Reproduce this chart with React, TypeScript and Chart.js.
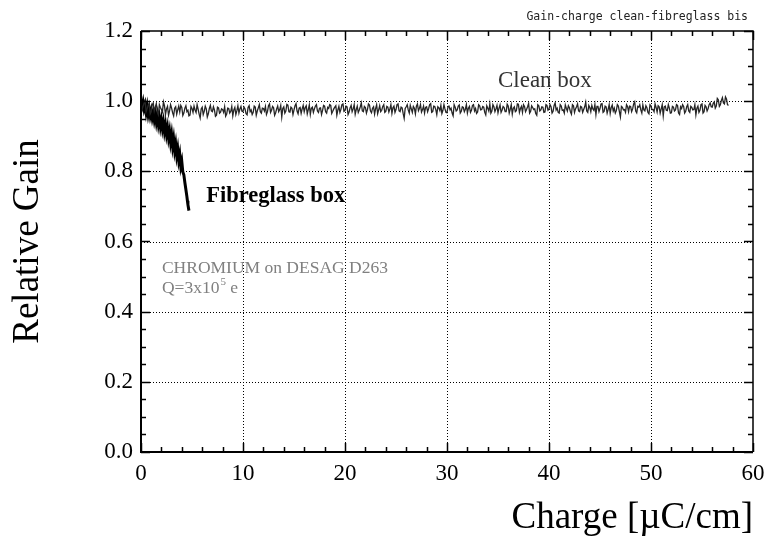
import React, { useEffect, useRef } from "react";
import { Chart, registerables } from "chart.js";

Chart.register(...registerables);

// ---- data ----
const X_TICKS = [0, 10, 20, 30, 40, 50, 60];
const Y_TICKS = [0, 0.2, 0.4, 0.6, 0.8, 1.0, 1.2];
const X_MINOR_STEP = 2;
const Y_MINOR_STEP = 0.05;

const CLEAN_STEP = 0.2; // samples at 0, 0.2, 0.4 ...
const CLEAN_Y = [
  0.998, 0.985, 1.002, 0.978, 0.992, 0.970, 0.995, 0.983, 0.968, 0.990, 0.976, 0.998, 0.962, 0.985, 0.972, 0.980, 0.958, 0.984, 0.975, 0.969,
  0.982, 0.966, 0.987, 0.974, 0.960, 0.979, 0.986, 0.968, 0.977, 0.952, 0.983, 0.971, 0.978, 0.964, 0.988, 0.970, 0.975, 0.960, 0.981, 0.969,
  0.976, 0.984, 0.963, 0.979, 0.971, 0.958, 0.982, 0.973, 0.966, 0.985, 0.970, 0.978, 0.961, 0.987, 0.975, 0.968, 0.983, 0.972, 0.990, 0.966,
  0.979, 0.985, 0.970, 0.992, 0.974, 0.981, 0.967, 0.986, 0.976, 0.955, 0.984, 0.972, 0.989, 0.969, 0.980, 0.975, 0.993, 0.964, 0.982, 0.978,
  0.970, 0.987, 0.976, 0.962, 0.983, 0.978, 0.990, 0.968, 0.981, 0.974, 0.986, 0.966, 0.979, 0.988, 0.971, 0.983, 0.960, 0.985, 0.977, 0.992,
  0.973, 0.984, 0.969, 0.988, 0.978, 0.963, 0.986, 0.975, 0.995, 0.970, 0.982, 0.976, 0.989, 0.967, 0.984, 0.979, 0.964, 0.987, 0.974, 0.990,
  0.971, 0.983, 0.978, 0.965, 0.986, 0.976, 0.992, 0.970, 0.981, 0.951, 0.984, 0.975, 0.988, 0.968, 0.980, 0.986, 0.973, 0.990, 0.976, 0.966,
  0.984, 0.979, 0.993, 0.970, 0.985, 0.962, 0.981, 0.988, 0.974, 0.978, 0.967, 0.986, 0.980, 0.958, 0.983, 0.975, 0.989, 0.971, 0.982, 0.977,
  0.966, 0.985, 0.974, 0.990, 0.979, 0.969, 0.987, 0.976, 0.983, 0.961, 0.980, 0.992, 0.972, 0.984, 0.978, 0.967, 0.989, 0.975, 0.982, 0.970,
  0.986, 0.977, 0.963, 0.984, 0.973, 0.991, 0.979, 0.968, 0.985, 0.976, 0.993, 0.971, 0.982, 0.978, 0.960, 0.987, 0.975, 0.983, 0.969, 0.988,
  0.977, 0.984, 0.971, 0.995, 0.980, 0.966, 0.986, 0.975, 0.989, 0.972, 0.981, 0.963, 0.987, 0.978, 0.992, 0.970, 0.983, 0.976, 0.997, 0.968,
  0.982, 0.988, 0.974, 0.962, 0.985, 0.979, 0.993, 0.971, 0.984, 0.977, 0.965, 0.989, 0.980, 0.973, 0.986, 0.955, 0.982, 0.976, 0.990, 0.970,
  0.985, 0.978, 0.998, 0.967, 0.983, 0.975, 0.989, 0.972, 0.981, 0.964, 0.987, 0.976, 0.992, 0.969, 0.984, 0.978, 0.958, 0.986, 0.973, 0.980,
  0.967, 0.983, 0.975, 0.988, 0.962, 0.979, 0.985, 0.971, 0.990, 0.968, 0.982, 0.976, 0.961, 0.986, 0.974, 0.992, 0.970, 0.984, 0.979, 0.995,
  0.983, 0.998, 0.986, 1.004, 0.990, 1.010, 0.992, 1.006, 0.988,
];
// samples in between, at 0.1, 0.3, 0.5 ...
const CLEAN_Y_MID = [
  0.975, 0.994, 0.970, 0.988, 0.964, 0.989, 0.972, 0.993, 0.961, 0.982, 0.969, 0.987, 0.978, 0.960, 0.990, 0.967, 0.980, 0.963, 0.986, 0.988,
  0.959, 0.980, 0.970, 0.958, 0.985, 0.968, 0.975, 0.990, 0.963, 0.978, 0.962, 0.986, 0.955, 0.979, 0.972, 0.984, 0.957, 0.983, 0.966, 0.978,
  0.968, 0.957, 0.980, 0.966, 0.985, 0.975, 0.962, 0.987, 0.978, 0.971, 0.983, 0.964, 0.982, 0.970, 0.962, 0.986, 0.960, 0.981, 0.970, 0.980,
  0.972, 0.962, 0.987, 0.968, 0.985, 0.960, 0.978, 0.970, 0.988, 0.979, 0.966, 0.991, 0.970, 0.983, 0.962, 0.987, 0.972, 0.980, 0.965, 0.988,
  0.982, 0.964, 0.989, 0.980, 0.968, 0.986, 0.972, 0.980, 0.962, 0.988, 0.970, 0.982, 0.990, 0.965, 0.978, 0.987, 0.975, 0.968, 0.990, 0.971,
  0.986, 0.962, 0.981, 0.970, 0.990, 0.976, 0.968, 0.984, 0.972, 0.985, 0.966, 0.992, 0.972, 0.980, 0.963, 0.990, 0.975, 0.970, 0.985, 0.968,
  0.985, 0.969, 0.990, 0.981, 0.968, 0.990, 0.972, 0.983, 0.965, 0.979, 0.990, 0.966, 0.978, 0.985, 0.964, 0.992, 0.980, 0.969, 0.986, 0.982,
  0.970, 0.990, 0.968, 0.986, 0.976, 0.984, 0.973, 0.965, 0.990, 0.968, 0.985, 0.975, 0.966, 0.990, 0.972, 0.986, 0.966, 0.984, 0.970, 0.990,
  0.980, 0.968, 0.988, 0.972, 0.965, 0.990, 0.975, 0.985, 0.968, 0.987, 0.972, 0.966, 0.990, 0.970, 0.988, 0.980, 0.968, 0.985, 0.970, 0.991,
  0.966, 0.990, 0.980, 0.970, 0.992, 0.968, 0.985, 0.990, 0.970, 0.984, 0.966, 0.987, 0.976, 0.965, 0.990, 0.972, 0.984, 0.968, 0.990, 0.974,
  0.990, 0.966, 0.988, 0.975, 0.968, 0.990, 0.974, 0.966, 0.980, 0.987, 0.970, 0.990, 0.968, 0.984, 0.972, 0.985, 0.968, 0.984, 0.972, 0.988,
  0.970, 0.978, 0.990, 0.985, 0.970, 0.992, 0.968, 0.986, 0.966, 0.990, 0.982, 0.972, 0.966, 0.990, 0.970, 0.985, 0.975, 0.968, 0.985, 0.986,
  0.970, 0.992, 0.972, 0.985, 0.990, 0.966, 0.975, 0.987, 0.968, 0.990, 0.976, 0.970, 0.982, 0.987, 0.966, 0.990, 0.984, 0.974, 0.990, 0.966,
  0.985, 0.972, 0.990, 0.966, 0.984, 0.990, 0.966, 0.984, 0.972, 0.985, 0.975, 0.990, 0.980, 0.968, 0.990, 0.966, 0.988, 0.972, 0.990, 0.984,
  0.994, 0.980, 1.008, 0.985, 1.002, 0.995, 1.012, 0.990,
];

const FIBRE_X = [
  0.0, 0.1, 0.2, 0.3, 0.4, 0.5, 0.6, 0.7, 0.8, 0.9, 1.0, 1.1, 1.2, 1.3, 1.4, 1.5, 1.6, 1.7, 1.8, 1.9, 2.0,
  2.1, 2.2, 2.3, 2.4, 2.5, 2.6, 2.7, 2.8, 2.9, 3.0, 3.1, 3.2, 3.3, 3.4, 3.5, 3.6, 3.7, 3.8, 3.9, 4.0, 4.1,
  4.2, 4.3, 4.4, 4.5, 4.55, 4.6, 4.7,
];
const FIBRE_Y = [
  1.002, 0.985, 0.998, 0.978, 0.990, 0.968, 0.985, 0.962, 0.978, 0.958, 0.972, 0.952, 0.966, 0.946, 0.962, 0.940, 0.958, 0.934, 0.952, 0.928, 0.946,
  0.922, 0.940, 0.914, 0.932, 0.906, 0.924, 0.896, 0.914, 0.884, 0.904, 0.872, 0.892, 0.860, 0.878, 0.846, 0.864, 0.832, 0.848, 0.814, 0.828, 0.798,
  0.790, 0.768, 0.748, 0.728, 0.716, 0.705, 0.688,
];

const TITLE_TEXT = "Gain-charge clean-fibreglass bis";
const X_TITLE = "Charge [\u00b5C/cm]";
const Y_TITLE = "Relative Gain";
const LABEL_CLEAN = { text: "Clean box", x: 39.6, y: 1.057 };
const LABEL_FIBRE = { text: "Fibreglass box", x: 6.4, y: 0.73 };
const LABEL_INFO1 = { text: "CHROMIUM on DESAG D263", x: 2.05, y: 0.524 };
const LABEL_INFO2 = { text: "Q=3x10", sup: "5", tail: " e", x: 2.05, y: 0.465 };

const SERIF = "'Liberation Serif', 'Times New Roman', serif";

const framePlugin = {
  id: "frame",
  beforeDatasetsDraw(chart: any) {
    const { ctx, chartArea: a, scales } = chart;
    const xs = scales.x, ys = scales.y;
    ctx.save();
    ctx.strokeStyle = "#000";
    ctx.lineWidth = 1;
    ctx.setLineDash([1, 2]);
    X_TICKS.slice(1, -1).forEach((v) => {
      const px = Math.round(xs.getPixelForValue(v)) + 0.5;
      ctx.beginPath();
      ctx.moveTo(px, a.top);
      ctx.lineTo(px, a.bottom);
      ctx.stroke();
    });
    Y_TICKS.slice(1, -1).forEach((v) => {
      const py = Math.round(ys.getPixelForValue(v)) + 0.5;
      ctx.beginPath();
      ctx.moveTo(a.left, py);
      ctx.lineTo(a.right, py);
      ctx.stroke();
    });
    ctx.restore();
  },
  afterDatasetsDraw(chart: any) {
    const { ctx, chartArea: a, scales } = chart;
    const xs = scales.x, ys = scales.y;
    ctx.save();
    ctx.strokeStyle = "#000";
    ctx.setLineDash([]);
    // ticks (inward)
    ctx.lineWidth = 1.5;
    for (let i = 0; i * X_MINOR_STEP <= 60 + 1e-9; i++) {
      const v = i * X_MINOR_STEP;
      const major = v % 10 === 0;
      const len = major ? 9 : 5;
      const px = Math.round(xs.getPixelForValue(v)) + 0.5;
      ctx.beginPath();
      ctx.moveTo(px, a.bottom);
      ctx.lineTo(px, a.bottom - len);
      ctx.moveTo(px, a.top);
      ctx.lineTo(px, a.top + len);
      ctx.stroke();
    }
    for (let i = 0; i * Y_MINOR_STEP <= 1.2 + 1e-9; i++) {
      const v = i * Y_MINOR_STEP;
      const major = i % 4 === 0;
      const len = major ? 9 : 5;
      const py = Math.round(ys.getPixelForValue(v)) + 0.5;
      ctx.beginPath();
      ctx.moveTo(a.left, py);
      ctx.lineTo(a.left + len, py);
      ctx.moveTo(a.right, py);
      ctx.lineTo(a.right - len, py);
      ctx.stroke();
    }
    // border
    ctx.lineWidth = 2;
    ctx.beginPath();
    ctx.moveTo(a.left, a.top);
    ctx.lineTo(a.left, a.bottom);
    ctx.lineTo(a.right, a.bottom);
    ctx.stroke();
    ctx.lineWidth = 1.5;
    ctx.beginPath();
    ctx.moveTo(a.left, a.top);
    ctx.lineTo(a.right, a.top);
    ctx.lineTo(a.right, a.bottom);
    ctx.stroke();

    // annotations
    ctx.textBaseline = "middle";
    ctx.fillStyle = "#333";
    ctx.font = `23px ${SERIF}`;
    ctx.textAlign = "center";
    ctx.fillText(LABEL_CLEAN.text, xs.getPixelForValue(LABEL_CLEAN.x), ys.getPixelForValue(LABEL_CLEAN.y));
    ctx.textAlign = "left";
    ctx.fillStyle = "#000";
    ctx.font = `bold 22.5px ${SERIF}`;
    ctx.fillText(LABEL_FIBRE.text, xs.getPixelForValue(LABEL_FIBRE.x), ys.getPixelForValue(LABEL_FIBRE.y));
    ctx.fillStyle = "#808080";
    ctx.font = `17.5px ${SERIF}`;
    ctx.fillText(LABEL_INFO1.text, xs.getPixelForValue(LABEL_INFO1.x), ys.getPixelForValue(LABEL_INFO1.y));
    const qx = xs.getPixelForValue(LABEL_INFO2.x);
    const qy = ys.getPixelForValue(LABEL_INFO2.y);
    ctx.fillText(LABEL_INFO2.text, qx, qy);
    const w1 = ctx.measureText(LABEL_INFO2.text).width;
    ctx.font = `11px ${SERIF}`;
    ctx.fillText(LABEL_INFO2.sup, qx + w1 + 1, qy - 7);
    const w2 = ctx.measureText(LABEL_INFO2.sup).width;
    ctx.font = `17.5px ${SERIF}`;
    ctx.fillText(LABEL_INFO2.tail, qx + w1 + w2 + 1, qy);

    // top-right caption
    ctx.fillStyle = "#222";
    ctx.font = `11.5px 'DejaVu Sans Mono', monospace`;
    ctx.textAlign = "right";
    ctx.fillText(TITLE_TEXT, 748, 17);
    ctx.restore();
  },
};

export default function App() {
  const ref = useRef<HTMLCanvasElement | null>(null);
  useEffect(() => {
    if (!ref.current) return;
    const clean: { x: number; y: number }[] = [];
    CLEAN_Y.forEach((y, i) => {
      const x0 = i * CLEAN_STEP;
      clean.push({ x: x0, y });
      if (i < CLEAN_Y_MID.length) clean.push({ x: x0 + CLEAN_STEP / 2, y: CLEAN_Y_MID[i] });
    });
    const fibre = FIBRE_X.map((x, i) => ({ x, y: FIBRE_Y[i] }));
    const chart = new Chart(ref.current, {
      type: "scatter",
      data: {
        datasets: [
          {
            label: "Clean box",
            data: clean,
            showLine: true,
            borderColor: "#262626",
            borderWidth: 1.3,
            pointRadius: 0,
            tension: 0,
          },
          {
            label: "Fibreglass box",
            data: fibre,
            showLine: true,
            borderColor: "#000",
            borderWidth: 3,
            pointRadius: 0,
            tension: 0,
          },
        ],
      },
      options: {
        animation: false,
        responsive: false,
        devicePixelRatio: 1,
        layout: { padding: { left: 0, top: 31, right: 13, bottom: 0 } },
        plugins: { legend: { display: false }, tooltip: { enabled: false } },
        events: [],
        scales: {
          x: {
            type: "linear",
            min: 0,
            max: 60,
            afterBuildTicks: (s: any) => {
              s.ticks = X_TICKS.map((v) => ({ value: v }));
            },
            ticks: {
              font: { family: SERIF, size: 23 },
              color: "#000",
              padding: 8,
              maxRotation: 0,
              autoSkip: false,
            },
            grid: { display: false, drawTicks: false },
            border: { display: false },
            title: {
              display: true,
              text: X_TITLE,
              align: "end",
              color: "#000",
              font: { family: SERIF, size: 37 },
              padding: { top: 0, bottom: 8 },
            },
            afterFit: (s: any) => {
              s.height = 96;
              s.paddingLeft = 0;
              s.paddingRight = 0;
            },
          },
          y: {
            type: "linear",
            min: 0,
            max: 1.2,
            afterBuildTicks: (s: any) => {
              s.ticks = Y_TICKS.map((v) => ({ value: v }));
            },
            ticks: {
              font: { family: SERIF, size: 23 },
              color: "#000",
              padding: 8,
              autoSkip: false,
              callback: (v: any) => Number(v).toFixed(1),
            },
            grid: { display: false, drawTicks: false },
            border: { display: false },
            title: {
              display: true,
              text: Y_TITLE,
              color: "#000",
              font: { family: SERIF, size: 37 },
              padding: { top: 6, bottom: 0 },
            },
            afterFit: (s: any) => {
              s.width = 141;
              s.paddingTop = 0;
              s.paddingBottom = 0;
            },
          },
        },
      },
      plugins: [framePlugin],
    } as any);
    return () => chart.destroy();
  }, []);
  return (
    <div style={{ position: "absolute", left: 0, top: 0, width: 766, height: 548, background: "#fff" }}>
      <canvas ref={ref} width={766} height={548} style={{ display: "block" }} />
    </div>
  );
}
